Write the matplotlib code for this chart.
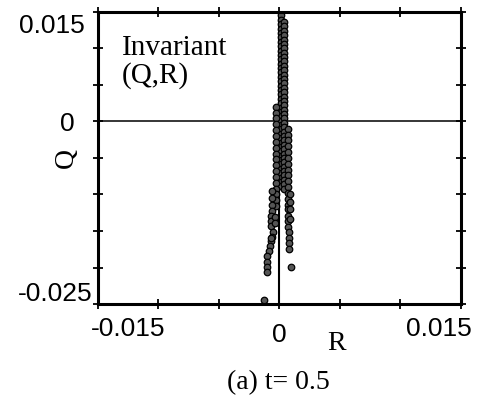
import numpy as np
from matplotlib import pyplot as plt
import matplotlib.transforms as mtransforms

# invariant (Q,R) scatter at t = 0.5
# dense core around R = 0, several overlapping columns
colA_R = 0.0001
colA_Q = [0.0145, 0.0139, 0.0133, 0.0127, 0.0121, 0.0115, 0.0109, 0.0103,
          0.0097, 0.0091, 0.0085, 0.0079, 0.0073, 0.0067, 0.0061, 0.0055,
          0.0049, 0.0043, 0.0037, 0.0031, 0.0025, 0.0019, 0.0013, 0.0007,
          0.0001, -0.0005, -0.0011, -0.0017, -0.0023, -0.0029, -0.0035,
          -0.0041, -0.0047, -0.0053, -0.0059, -0.0065, -0.0071, -0.0077,
          -0.0083, -0.0089]
colB_R = 0.0004
colB_Q = [0.0136, 0.0130, 0.0124, 0.0118, 0.0112, 0.0106, 0.0100, 0.0094,
          0.0088, 0.0082, 0.0076, 0.0070, 0.0064, 0.0058, 0.0052, 0.0046,
          0.0040, 0.0034, 0.0028, 0.0022, 0.0016, 0.0010, 0.0004, -0.0002,
          -0.0008, -0.0014, -0.0020, -0.0026, -0.0032, -0.0038, -0.0044,
          -0.0050, -0.0056, -0.0062, -0.0068, -0.0074, -0.0080, -0.0086,
          -0.0092]
colC_R = -0.0003
colC_Q = [0.0020, 0.0012, 0.0004, -0.0004, -0.0012, -0.0020, -0.0028,
          -0.0036, -0.0044, -0.0052, -0.0060, -0.0068, -0.0076, -0.0084,
          -0.0092, -0.0100, -0.0108, -0.0116]
colD_R = 0.0007
colD_Q = [-0.0010, -0.0018, -0.0026, -0.0034, -0.0042, -0.0050, -0.0058,
          -0.0066, -0.0074, -0.0082, -0.0090, -0.0098, -0.0106, -0.0114,
          -0.0120]

# widening lower part and the scattered tail
tail_R = [-0.0006, -0.0006, -0.0006, -0.0006, 0.0009, 0.0009, 0.0009,
          -0.0007, -0.0007, -0.0007, -0.0004, -0.0004,
          0.0007, 0.0007, 0.0007, 0.0009,
          -0.0005, -0.0006, -0.0007, -0.0008, -0.0009, -0.0010, -0.0007,
          0.0008, 0.0008, 0.0008, 0.0008,
          -0.0010, -0.0010, -0.0010,
          0.0010,
          -0.0013]
tail_Q = [-0.0095, -0.0105, -0.0115, -0.0122, -0.0100, -0.0110, -0.0120,
          -0.0129, -0.0136, -0.0143, -0.0131, -0.0139,
          -0.0130, -0.0137, -0.0144, -0.0134,
          -0.0151, -0.0158, -0.0164, -0.0171, -0.0177, -0.0184, -0.0160,
          -0.0152, -0.0160, -0.0167, -0.0174,
          -0.0192, -0.0199, -0.0206,
          -0.0199,
          -0.0244]

xticks = [-0.015, -0.010, -0.005, 0.0, 0.005, 0.010, 0.015]
xlabels = ['-0.015', '', '', '0', '', '', '0.015']
yticks = [-0.025, -0.020, -0.015, -0.010, -0.005, 0.0, 0.005, 0.010, 0.015]
ylabels = ['-0.025', '', '', '', '', '0', '', '', '0.015']

R = np.concatenate([np.full(len(colA_Q), colA_R), np.full(len(colB_Q), colB_R),
                    np.full(len(colC_Q), colC_R), np.full(len(colD_Q), colD_R),
                    tail_R])
Q = np.concatenate([colA_Q, colB_Q, colC_Q, colD_Q, tail_Q])

fig = plt.figure(figsize=(4.78, 4.07), dpi=100)
ax = fig.add_axes([0.205, 0.253, 0.759, 0.718])

ax.axhline(0, color='black', linewidth=1.1, zorder=1)
ax.plot([0, 0], [-0.0247, 0.0148], color='black', linewidth=1.5, zorder=1)
ax.scatter(R, Q, s=22, facecolor='#555555', edgecolor='black',
           linewidths=0.9, zorder=2)

ax.set_xlim(-0.015, 0.015)
ax.set_ylim(-0.025, 0.015)
ax.set_xticks(xticks)
ax.set_xticklabels(xlabels, fontfamily='Liberation Sans', fontsize=19)
ax.set_yticks(yticks)
ax.set_yticklabels(ylabels, fontfamily='Liberation Sans', fontsize=19)
ax.tick_params(direction='inout', length=7, width=1.3, top=True, right=True)
ax.tick_params(axis='x', pad=6)
ax.tick_params(axis='y', pad=2)
for s in ax.spines.values():
    s.set_linewidth(2.2)

# nudge the end labels like the original
xl = ax.get_xticklabels()
xl[0].set_ha('left')
xl[-1].set_ha('right')
xl[0].set_transform(xl[0].get_transform() +
                    mtransforms.ScaledTranslation(-0.07, 0, fig.dpi_scale_trans))
xl[-1].set_transform(xl[-1].get_transform() +
                     mtransforms.ScaledTranslation(0.11, 0, fig.dpi_scale_trans))
xl[3].set_transform(xl[3].get_transform() +
                    mtransforms.ScaledTranslation(0, -0.06, fig.dpi_scale_trans))
yl = ax.get_yticklabels()
yl[-1].set_va('top')
yl[0].set_va('bottom')
yl[-1].set_transform(yl[-1].get_transform() +
                     mtransforms.ScaledTranslation(-0.06, -0.02, fig.dpi_scale_trans))
yl[0].set_transform(yl[0].get_transform() +
                    mtransforms.ScaledTranslation(0.02, -0.02, fig.dpi_scale_trans))
yl[5].set_transform(yl[5].get_transform() +
                    mtransforms.ScaledTranslation(-0.16, 0, fig.dpi_scale_trans))

ax.text(0.065, 0.92, 'Invariant\n(Q,R)', transform=ax.transAxes,
        fontfamily='Liberation Serif', fontsize=21, va='top', ha='left',
        linespacing=1.05)

fig.text(337 / 478, 1 - 343 / 407, 'R', fontfamily='Liberation Serif',
         fontsize=20, ha='center', va='center')
fig.text(66 / 478, 1 - 158 / 407, 'Q', fontfamily='Liberation Serif',
         fontsize=20, ha='center', va='center', rotation=90)
fig.text(278 / 478, 1 - 383 / 407, '(a) t= 0.5', fontfamily='Liberation Serif',
         fontsize=20, ha='center', va='center')

plt.savefig('out.png', dpi=100)
plt.close()
